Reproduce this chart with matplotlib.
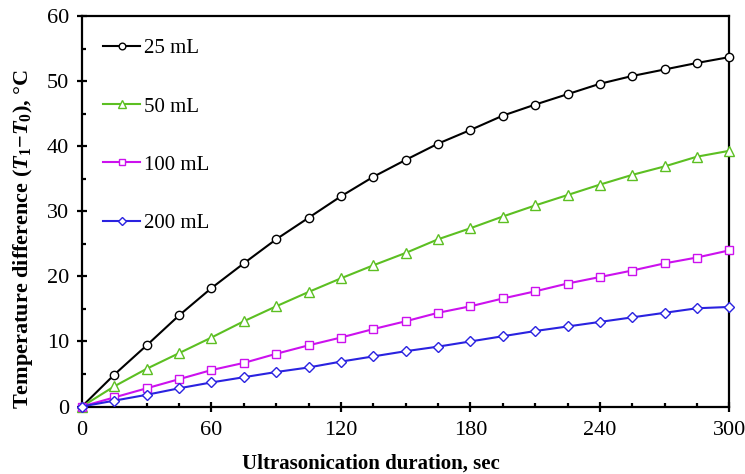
import numpy as np
import matplotlib
matplotlib.use("Agg")
import matplotlib.pyplot as plt
from matplotlib.ticker import MultipleLocator

plt.rcParams["font.family"] = ["Liberation Serif", "DejaVu Serif"]
plt.rcParams["mathtext.fontset"] = "custom"
plt.rcParams["mathtext.rm"] = "Liberation Serif:bold"
plt.rcParams["mathtext.it"] = "Liberation Serif:bold:italic"
plt.rcParams["mathtext.bf"] = "Liberation Serif:bold"

# Ultrasonication time (sec)
time_sec = [0, 15, 30, 45, 60, 75, 90, 105, 120, 135, 150,
            165, 180, 195, 210, 225, 240, 255, 270, 285, 300]

# Temperature difference (T1 - T0), degC, per sample volume
dt_25 = [0, 4.9, 9.4, 14.0, 18.2, 22.0, 25.7, 29.0, 32.3, 35.3, 37.9,
         40.4, 42.5, 44.7, 46.4, 48.0, 49.6, 50.8, 51.8, 52.8, 53.7]
dt_50 = [0, 3.1, 5.8, 8.2, 10.6, 13.1, 15.4, 17.6, 19.7, 21.7, 23.6,
         25.7, 27.4, 29.2, 30.9, 32.5, 34.1, 35.6, 36.9, 38.4, 39.3]
dt_100 = [0, 1.4, 2.8, 4.2, 5.6, 6.7, 8.1, 9.4, 10.6, 11.9, 13.1,
          14.4, 15.4, 16.6, 17.7, 18.9, 19.9, 20.9, 22.0, 22.9, 24.0]
dt_200 = [0, 0.9, 1.8, 2.8, 3.7, 4.5, 5.3, 6.0, 6.9, 7.7, 8.5,
          9.2, 10.0, 10.8, 11.6, 12.3, 13.0, 13.7, 14.4, 15.1, 15.3]

labels = ["25 mL", "50 mL", "100 mL", "200 mL"]
series = [dt_25, dt_50, dt_100, dt_200]
colors = ["black", "#5cbf22", "#cc11ee", "#2a22e0"]
markers = ["o", "^", "s", "D"]
msizes = [6, 6.5, 6, 5]

fig = plt.figure(figsize=(7.45, 4.74), dpi=100)
ax = fig.add_axes([0.110, 0.1424, 0.869, 0.8236])

for y, lab, c, m, ms in zip(series, labels, colors, markers, msizes):
    ax.plot(time_sec, y, color=c, lw=1.5, marker=m, ms=ms,
            mfc="white", mec=c, mew=1.0, label=lab, clip_on=False, zorder=3)

ax.set_xlim(0, 300)
ax.set_ylim(0, 60)
ax.xaxis.set_major_locator(MultipleLocator(60))
ax.xaxis.set_minor_locator(MultipleLocator(15))
ax.yaxis.set_major_locator(MultipleLocator(10))
ax.yaxis.set_minor_locator(MultipleLocator(5))
ax.tick_params(which="major", direction="inout", length=6.5, width=1.6,
               labelsize=16)
ax.tick_params(axis="y", which="major", pad=6)
ax.tick_params(axis="x", which="major", pad=7)
ax.tick_params(which="minor", direction="in", length=3, width=1.6)
for s in ax.spines.values():
    s.set_linewidth(1.6)

ax.set_xlabel("Ultrasonication duration, sec", fontsize=15,
              fontweight="bold")
ax.set_ylabel(r"Temperature difference ($T_{1}$$-$$T_{0}$), °C",
              fontsize=16, fontweight="bold")
# labels sit a bit off-centre in the original
ax.xaxis.set_label_coords(0.447, -0.12)
ax.yaxis.set_label_coords(-0.072, 0.43)

leg = ax.legend(loc="upper left", frameon=False, fontsize=15,
                labelspacing=1.85, handlelength=1.8, handletextpad=0.2,
                numpoints=1, markerscale=0.8,
                bbox_to_anchor=(0.0, 0.995), borderaxespad=0.6)

fig.savefig("out.png", dpi=100)
